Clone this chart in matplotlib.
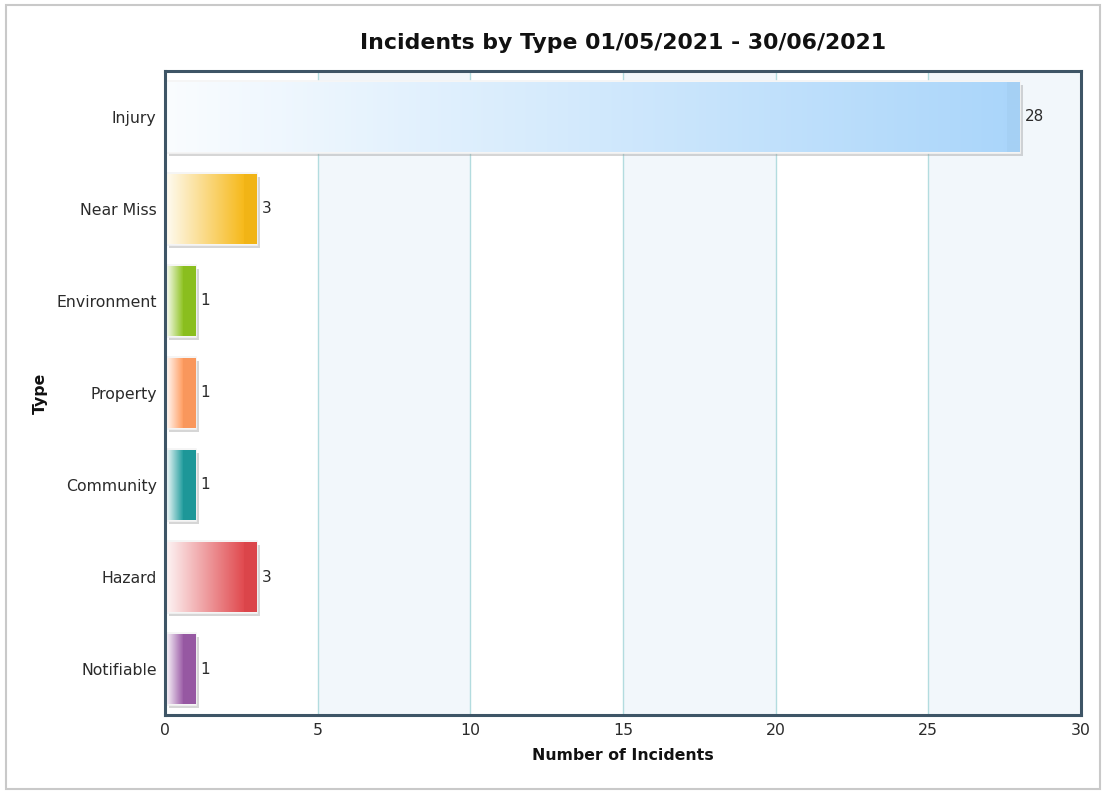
import numpy as np
import matplotlib
matplotlib.use("Agg")
import matplotlib.pyplot as plt
from matplotlib import patheffects as pe
from matplotlib.colors import to_rgb
from matplotlib.patches import Rectangle

# Incident counts per type
categories = ["Injury", "Near Miss", "Environment", "Property", "Community", "Hazard", "Notifiable"]
counts = [28, 3, 1, 1, 1, 3, 1]
bar_colors = ["#a9d5fa", "#f6b817", "#8dc21f", "#ff9b5e", "#1e9b9c", "#e0474c", "#9a5aa6"]
x_ticks = [0, 5, 10, 15, 20, 25, 30]

plt.rcParams["font.family"] = ["DejaVu Sans"]

fig = plt.figure(figsize=(11.04, 7.92), dpi=100)
fig.patch.set_facecolor("white")
fig.add_artist(Rectangle((0.005, 0.004), 0.991, 0.99, transform=fig.transFigure,
                         fill=False, edgecolor="#c9c9c9", linewidth=1.5))

ax = fig.add_axes([0.1495, 0.0972, 0.8295, 0.8132])
ax.set_xlim(0, 30)
y = np.arange(len(categories))
ax.set_ylim(len(categories) - 0.5, -0.5)

# alternating column bands and grid lines
for i in range(len(x_ticks) - 1):
    if i % 2 == 1:
        ax.axvspan(x_ticks[i], x_ticks[i + 1], color="#f2f7fb", zorder=0, lw=0)
for t in x_ticks[1:-1]:
    ax.axvline(t, color="#b3dcdf", lw=1.0, zorder=1)

bars = ax.barh(y, counts, height=0.78, facecolor="white", edgecolor="#f4f4f4",
               linewidth=1.2, zorder=2)

fig.canvas.draw()
px_per_unit = ax.transData.transform((1, 0))[0] - ax.transData.transform((0, 0))[0]

for bar, c, v in zip(bars, bar_colors, counts):
    bar.set_path_effects([pe.SimplePatchShadow(offset=(2.5, -2.5), shadow_rgbFace="#9a9a9a",
                                               alpha=0.4), pe.Normal()])
    x0, yb = bar.get_x(), bar.get_y()
    w, h = bar.get_width(), bar.get_height()
    wpx = w * px_per_unit
    n = max(int(wpx), 2)
    tpx = np.linspace(0, wpx, n)
    strip = 13.0
    f = np.clip(tpx / max(wpx - strip, 1), 0, 1)
    f = 0.06 + 0.92 * f
    rgb = np.array(to_rgb(c))
    cols = (1 - f)[:, None] * np.ones(3) + f[:, None] * rgb
    cols[tpx > wpx - strip] = rgb * 0.98
    img = np.tile(cols[None, :, :], (2, 1, 1))
    ax.imshow(img, extent=(x0 + 0.02, x0 + w - 0.02, yb + h - 0.012, yb + 0.012),
              aspect="auto", interpolation="bilinear", zorder=3)
    ax.text(x0 + w + 5 / px_per_unit, yb + h / 2, str(v), va="center", ha="left",
            fontsize=11, color="#2b2b2b", zorder=4)

ax.set_aspect("auto")
ax.set_xlim(0, 30)
ax.set_ylim(len(categories) - 0.5, -0.5)

ax.set_yticks(y)
ax.set_yticklabels(categories)
ax.set_xticks(x_ticks)
ax.tick_params(axis="both", length=0, labelsize=11.3, colors="#2b2b2b")
ax.tick_params(axis="y", pad=6)
ax.tick_params(axis="x", pad=6)

for s in ax.spines.values():
    s.set_color("#3e5566")
    s.set_linewidth(2.2)
    s.set_zorder(6)

ax.set_xlabel("Number of Incidents", fontsize=11.3, fontweight="bold", color="#111111", labelpad=7)
ax.set_ylabel("Type", fontsize=11.3, fontweight="bold", color="#111111", labelpad=6)
ax.set_title("Incidents by Type 01/05/2021 - 30/06/2021", fontsize=15.8, fontweight="bold",
             color="#111111", pad=16)

fig.savefig("out.png", dpi=100, facecolor="white")
